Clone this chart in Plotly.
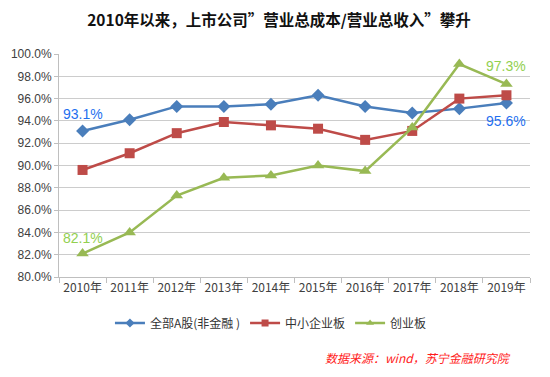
import plotly.graph_objects as go

years = ["2010年", "2011年", "2012年", "2013年", "2014年", "2015年", "2016年", "2017年", "2018年", "2019年"]
all_a = [93.1, 94.1, 95.3, 95.3, 95.5, 96.3, 95.3, 94.7, 95.1, 95.6]
sme = [89.6, 91.1, 92.9, 93.9, 93.6, 93.3, 92.3, 93.1, 96.0, 96.3]
gem = [82.1, 84.0, 87.3, 88.9, 89.1, 90.0, 89.5, 93.4, 99.1, 97.3]
yticks = [80, 82, 84, 86, 88, 90, 92, 94, 96, 98, 100]

names = ["全部A股(非金融 )", "中小企业板", "创业板"]
colors = ["#4A7EBB", "#BE4B48", "#98B954"]
symbols = ["diamond", "square", "triangle-up"]
sizes = [10, 10, 11]
series = [all_a, sme, gem]

font = "Noto Sans CJK SC"

fig = go.Figure()
for name, vals, c, s, sz in zip(names, series, colors, symbols, sizes):
    fig.add_trace(go.Scatter(x=years, y=vals, mode="lines+markers", name=name, showlegend=False,
                             line=dict(color=c, width=2.5),
                             marker=dict(symbol=s, size=sz, color=c)))
# legend entries with small markers
for name, c, s in zip(names, colors, symbols):
    fig.add_trace(go.Scatter(x=[None], y=[None], mode="lines+markers", name=name,
                             line=dict(color=c, width=2.5),
                             marker=dict(symbol=s, size=7, color=c)))

anns = [
    dict(x=years[0], y=all_a[0], text=f"{all_a[0]:.1f}%", yshift=17, color="#1F6FEF"),
    dict(x=years[-1], y=all_a[-1], text=f"{all_a[-1]:.1f}%", yshift=-18, color="#1F6FEF"),
    dict(x=years[0], y=gem[0], text=f"{gem[0]:.1f}%", yshift=16, color="#92D050"),
    dict(x=years[-1], y=gem[-1], text=f"{gem[-1]:.1f}%", yshift=18, color="#92D050"),
]
for a in anns:
    fig.add_annotation(x=a["x"], y=a["y"], text=a["text"], showarrow=False,
                       yshift=a["yshift"],
                       font=dict(family="Liberation Sans, Arial", size=14, color=a["color"]))

fig.update_layout(
    width=542, height=369,
    margin=dict(l=51, r=20, t=46, b=100, autoexpand=False),
    paper_bgcolor="white", plot_bgcolor="white",
    title=dict(text="<b>2010年以来，上市公司”营业总成本/营业总收入”攀升</b>",
               x=0.5, xanchor="center", y=0.967, yanchor="middle",
               font=dict(family=font, size=15.5, color="#111111")),
    showlegend=True,
    legend=dict(orientation="h", x=0.45, xanchor="center", y=-0.206, yanchor="middle",
                font=dict(family=font, size=12, color="#333333"),
                itemwidth=30, tracegroupgap=0),
    font=dict(family=font, color="#404040"),
)
fig.update_xaxes(type="category", range=[-0.5, 9.5], showgrid=False,
                 showline=True, linecolor="#BFBFBF", linewidth=1,
                 ticks="outside", tickson="boundaries", ticklen=5, tickcolor="#BFBFBF",
                 tickangle=0,
                 tickfont=dict(family=font, size=12, color="#404040"))
fig.update_yaxes(range=[80, 100], tickvals=yticks, ticktext=[f"{v:.1f}%" for v in yticks],
                 showgrid=True, gridcolor="#CCCCCC", gridwidth=1,
                 showline=True, linecolor="#BFBFBF", linewidth=1,
                 ticks="outside", ticklen=4, tickcolor="#BFBFBF", zeroline=False,
                 tickfont=dict(family="Liberation Sans, Arial", size=12, color="#404040"))

fig.add_annotation(x=0.963, xref="paper", xanchor="right", y=-0.359, yref="paper", yanchor="middle",
                   text="<i>数据来源：wind，苏宁金融研究院</i>", showarrow=False,
                   font=dict(family=font, size=12, color="#FF1A1A"))

fig.write_html("out.html")
